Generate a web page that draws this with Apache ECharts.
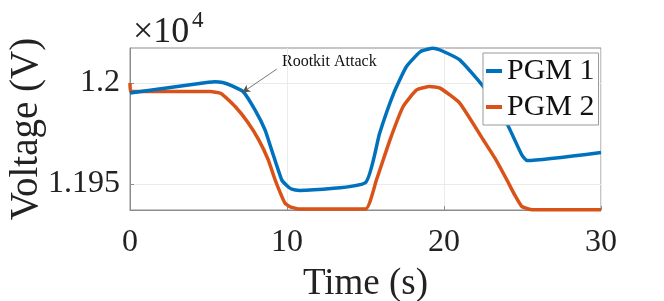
<!DOCTYPE html>
<html>
<head>
<meta charset="utf-8">
<script src="https://cdn.jsdelivr.net/npm/echarts@6/dist/echarts.min.js"></script>
<style>html,body{margin:0;padding:0;background:#fff;}#c{width:664px;height:301px;}</style>
</head>
<body>
<div id="c"></div>
<script>
var seriesNames = ['PGM 1', 'PGM 2'];
var xTicks = [0, 10, 20, 30];
var yTickValues = [11950, 12000];
var yTickLabels = ['1.195', '1.2'];

var pgm1Time = [0, 5.0, 5.4, 5.9, 6.5, 7.2, 7.96, 8.6, 9.02, 9.66, 10.0, 10.3, 10.8, 15.0, 15.9, 16.8, 17.6, 18.5, 19.3, 19.75, 21.0, 22.5, 24.0, 24.95, 25.3, 30];
var pgm1Volt = [11995.0, 12000.3, 12000.6, 12000.2, 11998.5, 11995.7, 11986.6, 11976.7, 11966.8, 11952, 11949, 11947.3, 11946.7, 11950.6, 11975, 11994.9, 12008, 12015.5, 12017.2, 12016.3, 12011.4, 11998.2, 11980, 11964.4, 11961.5, 11965.5];

var pgm2Time = [0, 0.05, 5.1, 5.8, 6.7, 7.5, 8.2, 8.8, 9.24, 9.6, 9.87, 10.2, 10.8, 15.0, 15.7, 16.56, 17.4, 18.26, 19.1, 19.75, 21.0, 22.5, 23.3, 24.0, 24.5, 24.95, 25.5, 26.5, 30];
var pgm2Volt = [12000, 11995.7, 11995.7, 11994.8, 11988.3, 11980.5, 11971.8, 11962, 11952, 11945, 11940.4, 11938.6, 11937.5, 11937.5, 11952, 11971.8, 11988.3, 11996.5, 11998.2, 11997.4, 11990, 11971.8, 11962, 11952, 11944.5, 11938.8, 11937.3, 11937.1, 11937.1];

var arrowTail = [9.34, 12006.8];
var arrowHead = [7.15, 11995.2];

function pairs(t, v) { return t.map(function (x, i) { return [x, v[i]]; }); }

var FONT = 'Liberation Serif';
var chart = echarts.init(document.getElementById('c'), null, {renderer: 'canvas'});
chart.setOption({
  animation: false,
  backgroundColor: '#fff',
  grid: {left: 130, right: 63, top: 48, bottom: 91, show: true, borderColor: '#8c8c8c', borderWidth: 1, backgroundColor: 'transparent', outerBoundsMode: 'none', containLabel: false},
  xAxis: {
    type: 'value', min: 0, max: 30, interval: 10,
    name: 'Time (s)', nameLocation: 'middle', nameGap: 56, nameMoveOverlap: false,
    nameTextStyle: {fontFamily: FONT, fontSize: 37, color: '#222'},
    axisLine: {show: true, lineStyle: {color: '#8c8c8c', width: 1}},
    axisTick: {show: true, inside: true, length: 4, lineStyle: {color: '#8c8c8c'}},
    axisLabel: {fontFamily: FONT, fontSize: 32, color: '#222', margin: 17},
    splitLine: {show: true, lineStyle: {color: '#ebebeb', width: 1}}
  },
  yAxis: {
    type: 'value', min: 11937, max: 12017.3,
    name: 'Voltage (V)', nameLocation: 'middle', nameGap: 84, nameRotate: 90, nameMoveOverlap: false,
    nameTextStyle: {fontFamily: FONT, fontSize: 39, color: '#222'},
    axisLine: {show: true, lineStyle: {color: '#8c8c8c', width: 1}},
    axisTick: {show: true, inside: true, length: 4, customValues: yTickValues, lineStyle: {color: '#8c8c8c'}},
    axisLabel: {fontFamily: FONT, fontSize: 32, color: '#222', margin: 10, customValues: yTickValues,
      formatter: function (v) { var i = yTickValues.indexOf(v); return i >= 0 ? yTickLabels[i] : ''; }},
    splitLine: {show: true, lineStyle: {color: '#ebebeb', width: 1}}
  },
  legend: {
    orient: 'vertical', left: 483, top: 53,
    backgroundColor: '#fff', borderColor: '#999', borderWidth: 1,
    padding: [3, 4, 3, 3], itemGap: 6, itemWidth: 16, itemHeight: 4, icon: 'rect',
    textStyle: {fontFamily: FONT, fontSize: 30, color: '#111', lineHeight: 30},
    data: seriesNames
  },
  series: [
    {
      name: seriesNames[0], type: 'line', data: pairs(pgm1Time, pgm1Volt), showSymbol: false, clip: false,
      smooth: 0.15,
      lineStyle: {color: '#0072BD', width: 3.5}, itemStyle: {color: '#0072BD'}, z: 3,
      markLine: {
        silent: true, animation: false,
        symbol: ['none', 'arrow'], symbolSize: [6, 8],
        lineStyle: {color: '#555', width: 0.8, type: 'solid'},
        label: {show: false},
        data: [[{coord: arrowTail}, {coord: arrowHead}]]
      }
    },
    {
      name: seriesNames[1], type: 'line', data: pairs(pgm2Time, pgm2Volt), showSymbol: false, clip: false,
      smooth: 0.15,
      lineStyle: {color: '#D95319', width: 3.5}, itemStyle: {color: '#D95319'}, z: 2
    }
  ],
  graphic: [
    {type: 'text', left: 282, top: 54, style: {text: 'Rootkit Attack', font: '16px "Liberation Serif"', fill: '#111'}},
    {type: 'text', left: 133, top: 15, style: {text: '×10', font: '36px "Liberation Serif"', fill: '#222'}},
    {type: 'text', left: 192, top: 9, style: {text: '4', font: '23px "Liberation Serif"', fill: '#222'}}
  ]
});
</script>
</body>
</html>
